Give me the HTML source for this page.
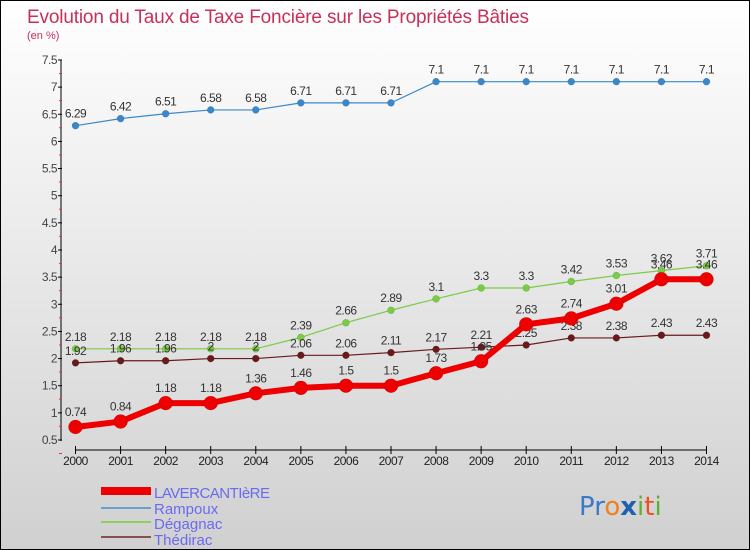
<!DOCTYPE html>
<html><head><meta charset="utf-8"><style>
body{margin:0;width:750px;height:550px;overflow:hidden;}
svg{display:block;font-family:"Liberation Sans","DejaVu Sans",sans-serif;}
</style></head><body>
<svg id="c" width="750" height="550">
<defs><linearGradient id="bg" x1="0" y1="0" x2="0" y2="1"><stop offset="0" stop-color="#ffffff"/><stop offset="1" stop-color="#d0d0d0"/></linearGradient></defs>
<rect x="0" y="0" width="750" height="550" fill="url(#bg)"/>
<rect x="0.5" y="0.5" width="749" height="549" fill="none" stroke="#000"/>
<text x="27" y="23" font-size="19" fill="#c8305a" textLength="502">Evolution du Taux de Taxe Foncière sur les Propriétés Bâties</text>
<text x="27" y="39" font-size="11" fill="#c8305a">(en %)</text>
<g id="axes"></g><g id="series"></g>
<g>
<rect x="101" y="487" width="50" height="8" fill="#e00"/>
<text x="154" y="498" font-size="15" fill="#6a6af0" textLength="116">LAVERCANTIèRE</text>
<rect x="101" y="507" width="50" height="2" fill="#6aa0d0"/>
<text x="154" y="514" font-size="15" fill="#6a6af0">Rampoux</text>
<rect x="101" y="521" width="50" height="2" fill="#8ed060"/>
<text x="154" y="529" font-size="15" fill="#6a6af0">Dégagnac</text>
<rect x="101" y="536" width="50" height="2" fill="#8a5050"/>
<text x="154" y="545" font-size="15" fill="#6a6af0">Thédirac</text>
</g>
<text x="579" y="515" font-size="26" font-family="'DejaVu Sans',sans-serif"><tspan fill="#3a7ac8">Pr</tspan><tspan fill="#f08020">o</tspan><tspan fill="#2060b0" font-weight="bold">x</tspan><tspan fill="#60b030">i</tspan><tspan fill="#f05020">t</tspan><tspan fill="#60b030">i</tspan></text>
</svg>
<script>
const years=[2000,2001,2002,2003,2004,2005,2006,2007,2008,2009,2010,2011,2012,2013,2014];
const yTicks=[0.5,1,1.5,2,2.5,3,3.5,4,4.5,5,5.5,6,6.5,7,7.5];
const lavercantiere=[0.74,0.84,1.18,1.18,1.36,1.46,1.5,1.5,1.73,1.95,2.63,2.74,3.01,3.46,3.46];
const rampoux=[6.29,6.42,6.51,6.58,6.58,6.71,6.71,6.71,7.1,7.1,7.1,7.1,7.1,7.1,7.1];
const degagnac=[2.18,2.18,2.18,2.18,2.18,2.39,2.66,2.89,3.1,3.3,3.3,3.42,3.53,3.62,3.71];
const thedirac=[1.92,1.96,1.96,2,2,2.06,2.06,2.11,2.17,2.21,2.25,2.38,2.38,2.43,2.43];
const NS="http://www.w3.org/2000/svg";
const X=i=>75.5+i*45.07;
const Y=v=>440-(v-0.5)*54.29;
function mk(t,a,p){const e=document.createElementNS(NS,t);for(const k in a)e.setAttribute(k,a[k]);p.appendChild(e);return e;}
const ax=document.getElementById('axes');
let l=mk('line',{x1:61,y1:60,x2:61,y2:441,stroke:'#000'},ax);


l=mk('line',{x1:75,y1:450,x2:707,y2:450,stroke:'#000'},ax);


yTicks.forEach(v=>{const y=Y(v);mk('line',{x1:58,y1:y,x2:62,y2:y,stroke:'#000'},ax);
mk('line',{x1:59,y1:y+13.5,x2:62,y2:y+13.5,stroke:'#e33'},ax);
const t=mk('text',{x:57,y:y+4,'font-size':12,fill:'#444','text-anchor':'end','letter-spacing':'-0.5'},ax);t.textContent=v;

});
years.forEach((yr,i)=>{const x=X(i);mk('line',{x1:x,y1:446,x2:x,y2:454,stroke:'#000'},ax);
const t=mk('text',{x:x,y:465,'font-size':12,fill:'#222','text-anchor':'middle','letter-spacing':'-0.5'},ax);t.textContent=yr;

});
const sg=document.getElementById('series');
function series(name,vals,col,w,r){const g=mk('g',{},sg);


mk('polyline',{points:vals.map((v,i)=>X(i)+','+Y(v)).join(' '),fill:'none',stroke:col,'stroke-width':w,'stroke-linejoin':'round'},g);
vals.forEach((v,i)=>{const c=mk('circle',{cx:X(i),cy:Y(v),r:r,fill:col,stroke:'rgba(0,0,0,0.2)','stroke-width':0.5},g);


const t=mk('text',{x:X(i),y:Y(v)-8-(r>5?3:0),'font-size':12,fill:'#333','text-anchor':'middle','letter-spacing':'-0.5'},g);t.textContent=v;

});}
series('rampoux',rampoux,'#3a88cc',1.2,3.5);
series('degagnac',degagnac,'#7acc44',1.2,3.5);
series('thedirac',thedirac,'#6a1a1a',1.2,3.5);
series('lavercantiere',lavercantiere,'#ee0000',6,7);
</script>
</body></html>
